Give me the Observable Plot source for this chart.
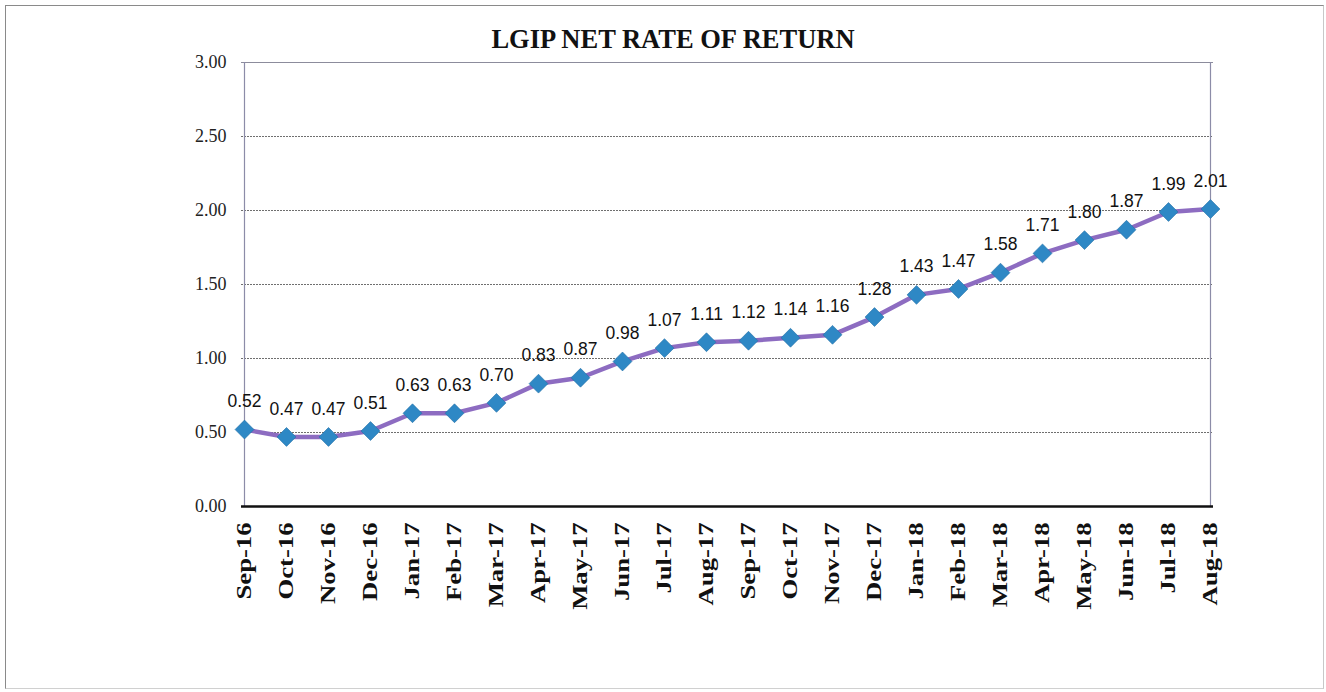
<!DOCTYPE html>
<html>
<head>
<meta charset="utf-8">
<script src="https://cdn.jsdelivr.net/npm/d3@7"></script>
<script src="https://cdn.jsdelivr.net/npm/@observablehq/plot@0.6"></script>
<style>
  html, body { margin: 0; padding: 0; background: #fff; }
  #wrap { position: relative; width: 1326px; height: 692px; overflow: hidden; }
  #border { position: absolute; left: 5px; top: 5px; width: 1317px; height: 682px; border: 1px solid #8a8a8a; border-right-color: #c8c8c8; border-bottom-color: #d0d0d0; pointer-events: none; }
  #title { position: absolute; left: 0; top: 26px; width: 1346px; text-align: center; font-family: "Liberation Serif", "Times New Roman", serif; font-weight: bold; font-size: 26.5px; line-height: 1; color: #111; }
  #chart { position: absolute; left: 0; top: 0; }
</style>
</head>
<body>
<div id="wrap">
  <div id="chart"></div>
  <div id="border"></div>
  <div id="title">LGIP NET RATE OF RETURN</div>
</div>
<script>
const months = ["Sep-16","Oct-16","Nov-16","Dec-16","Jan-17","Feb-17","Mar-17","Apr-17","May-17","Jun-17","Jul-17","Aug-17","Sep-17","Oct-17","Nov-17","Dec-17","Jan-18","Feb-18","Mar-18","Apr-18","May-18","Jun-18","Jul-18","Aug-18"];
const rates = [0.52,0.47,0.47,0.51,0.63,0.63,0.70,0.83,0.87,0.98,1.07,1.11,1.12,1.14,1.16,1.28,1.43,1.47,1.58,1.71,1.80,1.87,1.99,2.01];
const yTicks = [0, 0.5, 1.0, 1.5, 2.0, 2.5, 3.0];
const gridTicks = [0.5, 1.0, 1.5, 2.0, 2.5];

const data = months.map((m, i) => ({m, v: rates[i]}));

const serif = "'Liberation Serif', 'Times New Roman', serif";

const chart = Plot.plot({
  width: 1326,
  height: 692,
  marginLeft: 241,
  marginRight: 113,
  marginTop: 62,
  marginBottom: 186,
  x: {type: "point", domain: months, padding: 0, axis: null},
  y: {domain: [0, 3], axis: null},
  marks: [
    Plot.ruleY(gridTicks, {stroke: "#6f6f6f", strokeWidth: 1, strokeDasharray: "2,1"}),
    Plot.ruleY([3], {stroke: "#8c8c9c", strokeWidth: 1.2}),
    Plot.ruleX([months[0], months[months.length - 1]], {stroke: "#8c8ca8", strokeWidth: 1.2}),
    Plot.ruleY([0], {stroke: "#111", strokeWidth: 2.5}),
    Plot.text(yTicks, {y: d => d, text: d => d.toFixed(2), frameAnchor: "left", textAnchor: "end", dx: -15, fontSize: 18, fontFamily: serif, fill: "#222"}),
    Plot.text(months, {x: d => d, frameAnchor: "bottom", rotate: -90, textAnchor: "end", lineAnchor: "middle", dy: 16, fontSize: 20.5, fontWeight: "bold", fontFamily: serif, fill: "#111"}),
    Plot.line(data, {x: "m", y: "v", stroke: "#8d6cc1", strokeWidth: 4.5}),
    Plot.dot(data, {x: "m", y: "v", symbol: "diamond2", r: 8.5, fill: "#2e88c5", stroke: "#216ea6", strokeWidth: 0.6}),
    Plot.text(data, {x: "m", y: "v", text: d => d.v.toFixed(2), dy: -28, fontSize: 17.5, fontFamily: "'Liberation Sans', Arial, sans-serif", fill: "#111"})
  ]
});
document.getElementById("chart").appendChild(chart);

// horizontally stretch the rotated month labels like the reference
const monthSet = new Set(months);
chart.querySelectorAll("text").forEach(t => {
  if (monthSet.has(t.textContent)) {
    const tr = t.getAttribute("transform") || "";
    t.setAttribute("transform", tr + " scale(1.3,1)");
  }
});
</script>
</body>
</html>
